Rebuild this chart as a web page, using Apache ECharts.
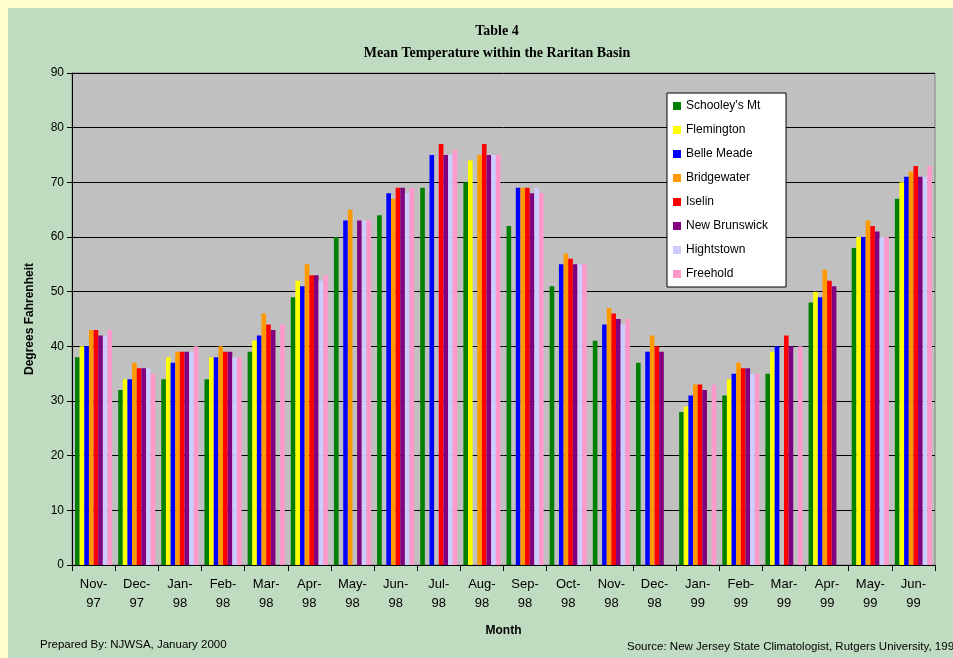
<!DOCTYPE html>
<html>
<head>
<meta charset="utf-8">
<script src="https://cdn.jsdelivr.net/npm/echarts@6/dist/echarts.min.js"></script>
<style>
  html, body { margin: 0; padding: 0; background: #ffffcc; }
  #bg { position: absolute; left: 8px; top: 8px; width: 945px; height: 650px; background: #c0dcc0; }
  #chart { position: absolute; left: 0; top: 0; width: 953px; height: 658px; }
</style>
</head>
<body>
<div id="bg"></div>
<div id="chart"></div>
<script>
// months on the x axis
const months = ['Nov-\n97', 'Dec-\n97', 'Jan-\n98', 'Feb-\n98', 'Mar-\n98', 'Apr-\n98', 'May-\n98',
  'Jun-\n98', 'Jul-\n98', 'Aug-\n98', 'Sep-\n98', 'Oct-\n98', 'Nov-\n98', 'Dec-\n98',
  'Jan-\n99', 'Feb-\n99', 'Mar-\n99', 'Apr-\n99', 'May-\n99', 'Jun-\n99']

// mean temperature per station (null = no data)
const schooleysMt = [38, 32, 34, 34, 39, 49, 60, 64, 69, 70, 62, 51, 41, 37, 28, 31, 35, 48, 58, 67]
const flemington = [40, 34, 38, 38, 41, 52, null, null, null, 74, null, null, null, null, 29, 34, 39, 50, 60, 70]
const belleMeade = [40, 34, 37, 38, 42, 51, 63, 68, 75, null, 69, 55, 44, 39, 31, 35, 40, 49, 60, 71]
const bridgewater = [43, 37, 39, 40, 46, 55, 65, 67, null, 75, 69, 57, 47, 42, 33, 37, null, 54, 63, 72]
const iselin = [43, 36, 39, 39, 44, 53, null, 69, 77, 77, 69, 56, 46, 40, 33, 36, 42, 52, 62, 73]
const newBrunswick = [42, 36, 39, 39, 43, 53, 63, 69, 75, 75, 68, 55, 45, 39, 32, 36, 40, 51, 61, 71]
const hightstown = [42, 36, 39, 38, null, 52, 63, 68, 75, 75, 69, 55, 44, null, null, 35, null, null, 60, 71]
const freehold = [43, 35, 40, 38, 44, 53, 63, 69, 76, 75, 68, 55, 45, null, 33, 35, 40, null, 60, 73]

const stations = [
  { name: "Schooley's Mt", data: schooleysMt, color: '#008000' },
  { name: 'Flemington', data: flemington, color: '#ffff00' },
  { name: 'Belle Meade', data: belleMeade, color: '#0000ff' },
  { name: 'Bridgewater', data: bridgewater, color: '#ff9900' },
  { name: 'Iselin', data: iselin, color: '#ff0000' },
  { name: 'New Brunswick', data: newBrunswick, color: '#800080' },
  { name: 'Hightstown', data: hightstown, color: '#ccccff' },
  { name: 'Freehold', data: freehold, color: '#ff99cc' }
]

const font = 'Arial, "Liberation Sans", sans-serif'
const chart = echarts.init(document.getElementById('chart'))

const option = {
  backgroundColor: 'transparent',
  animation: false,
  title: {
    text: 'Table 4\nMean Temperature within the Raritan Basin',
    left: 492,
    textAlign: 'center',
    top: 15,
    textStyle: {
      fontFamily: '"Liberation Serif", "Times New Roman", serif',
      fontWeight: 'bold',
      fontSize: 14,
      lineHeight: 22,
      color: '#000'
    }
  },
  legend: {
    orient: 'vertical',
    left: 667,
    top: 93,
    backgroundColor: '#fff',
    borderColor: '#000',
    borderWidth: 1,
    borderRadius: 0,
    padding: [6, 18, 6, 6],
    itemWidth: 8,
    itemHeight: 8,
    itemGap: 10,
    icon: 'rect',
    textStyle: { fontFamily: font, fontSize: 12, lineHeight: 14, color: '#000' },
    data: stations.map(s => s.name)
  },
  grid: {
    left: 72,
    right: 18,
    top: 73,
    bottom: 93,
    show: true,
    backgroundColor: '#c0c0c0',
    borderColor: '#808080',
    borderWidth: 1
  },
  xAxis: {
    type: 'category',
    data: months,
    name: 'Month',
    nameLocation: 'middle',
    nameGap: 60,
    nameTextStyle: { fontFamily: font, fontWeight: 'bold', fontSize: 12, color: '#000' },
    axisLine: { lineStyle: { color: '#000', width: 1 } },
    axisTick: { show: true, length: 6, lineStyle: { color: '#000' } },
    axisLabel: { fontFamily: font, fontSize: 13, lineHeight: 19, color: '#000', margin: 10, interval: 0 }
  },
  yAxis: {
    type: 'value',
    min: 0,
    max: 90,
    interval: 10,
    name: 'Degrees Fahrenheit',
    nameLocation: 'middle',
    nameGap: 36,
    nameTextStyle: { fontFamily: font, fontWeight: 'bold', fontSize: 12, color: '#000' },
    axisLine: { show: true, lineStyle: { color: '#000', width: 1 } },
    axisTick: { show: true, length: 5, lineStyle: { color: '#000' } },
    axisLabel: { fontFamily: font, fontSize: 12, color: '#000', margin: 8 },
    splitLine: { show: true, lineStyle: { color: '#000', width: 1 } }
  },
  series: stations.map(s => ({
    name: s.name,
    type: 'bar',
    data: s.data,
    barGap: '0%',
    barCategoryGap: '14%',
    itemStyle: { color: s.color }
  })),
  graphic: [
    {
      type: 'text',
      left: 40,
      top: 639,
      style: { text: 'Prepared By: NJWSA, January 2000', font: '11.5px ' + font, fill: '#000' }
    },
    {
      type: 'text',
      left: 627,
      top: 641,
      style: { text: 'Source: New Jersey State Climatologist, Rutgers University, 1999', font: '11.5px ' + font, fill: '#000' }
    }
  ]
}

chart.setOption(option)
</script>
</body>
</html>
